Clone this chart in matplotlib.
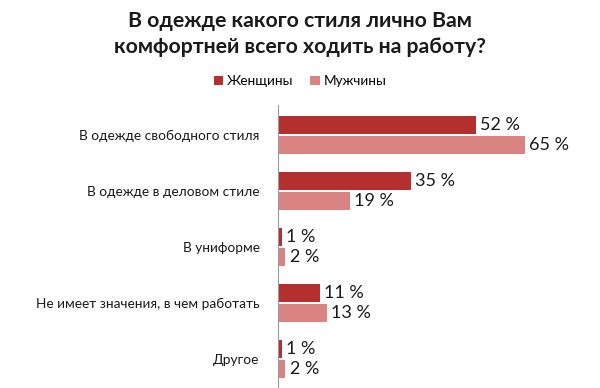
import numpy as np
import matplotlib.pyplot as plt

# Data
categories = ["В одежде свободного стиля", "В одежде в деловом стиле", "В униформе",
              "Не имеет значения, в чем работать", "Другое"]
women = [52, 35, 1, 11, 1]
men = [65, 19, 2, 13, 2]
series_names = ["Женщины", "Мужчины"]

plt.rcParams['font.family'] = ['Lato', 'DejaVu Sans']

fig = plt.figure(figsize=(6, 3.88), dpi=100)
ax = fig.add_axes([0.463, 0.0, 0.537, 0.729])

y = np.arange(len(categories))
h = 0.32
c_w = "#B3302F"
c_m = "#D98483"
bw = ax.barh(y - 0.175, women, height=h, color=c_w, label=series_names[0])
bm = ax.barh(y + 0.175, men, height=h, color=c_m, label=series_names[1])

for yi, v in zip(y, women):
    ax.text(v + 1.1, yi - 0.175, f"{v} %", va="center", ha="left", fontsize=13, color="#1a1a1a")
for yi, v in zip(y, men):
    ax.text(v + 1.1, yi + 0.175, f"{v} %", va="center", ha="left", fontsize=13, color="#1a1a1a")

ax.set_xlim(0, 84.7)
ax.set_ylim(4.52, -0.536)
ax.set_yticks(y)
ax.set_yticklabels(categories, fontsize=9.8, color="#1a1a1a")
ax.tick_params(axis="y", length=0, pad=13)
ax.set_xticks([])
for s in ["top", "right", "bottom"]:
    ax.spines[s].set_visible(False)
ax.spines["left"].set_color("#999999")

fig.text(0.5, 0.912, "В одежде какого стиля лично Вам\nкомфортней всего ходить на работу?",
         ha="center", va="center", fontsize=15.3, fontweight="bold", color="#1a1a1a",
         linespacing=1.35)

fig.legend(handles=[bw, bm], loc="center", bbox_to_anchor=(0.5, 0.79), ncol=2,
           frameon=False, fontsize=9.8, handlelength=0.7, handleheight=0.7,
           handletextpad=0.3, columnspacing=1.2)

fig.savefig("out.png", dpi=100)
